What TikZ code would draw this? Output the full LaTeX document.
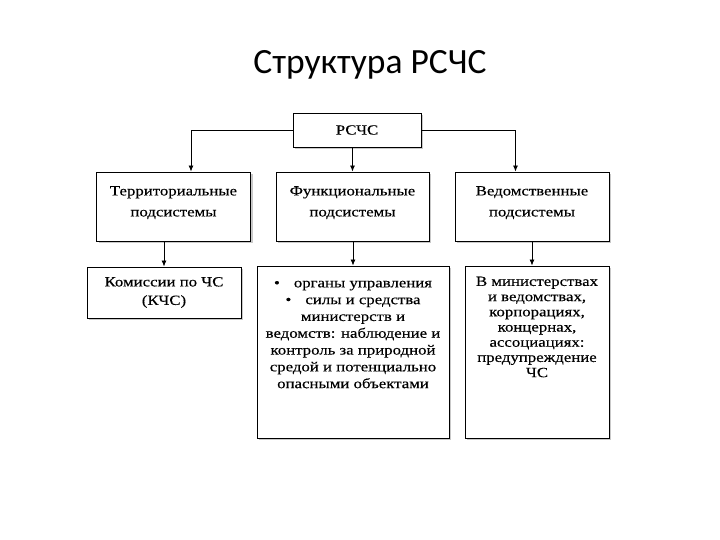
\documentclass[tikz,border=0pt]{standalone}
\usepackage{fontspec}
\setmainfont{Liberation Serif}[FakeStretch=1.2,FakeBold=0.3]
\newfontfamily\titlefont{Carlito}
\usetikzlibrary{shadows,arrows.meta}
\tikzset{
  box/.style={draw=black, line width=0.9pt, fill=white, inner sep=0pt,
    drop shadow={shadow xshift=2pt, shadow yshift=-2pt, fill=gray!60, opacity=0.7}},
  txt/.style={align=center, inner sep=0pt},
  arr/.style={line width=0.8pt, -{Latex[length=6pt,width=5pt]}},
}
\begin{document}
\begin{tikzpicture}[x=1pt,y=-1pt]
\useasboundingbox (0,0) rectangle (720,540);
\node[txt, font={\titlefont\fontsize{35.5}{38}\selectfont}] (title) at (370,65) {Структура РСЧС};

\node[box, minimum width=128pt, minimum height=34pt, font={\fontsize{14}{16}\selectfont}] (r) at (357,130) {РСЧС};

\node[box, minimum width=154pt, minimum height=69pt] (t1) at (173.5,206.5) {};
\node[box, minimum width=153pt, minimum height=69pt] (t2) at (352.5,206.5) {};
\node[box, minimum width=154pt, minimum height=69pt] (t3) at (532,206.5) {};
\node[txt, anchor=north, font={\fontsize{14}{21}\selectfont\lineskiplimit=-20pt}] (l1) at ([yshift=-14.5pt]t1.north) {Территориальные\\подсистемы};
\node[txt, anchor=north, font={\fontsize{14}{21}\selectfont\lineskiplimit=-20pt}] (l2) at ([yshift=-14.5pt]t2.north) {Функциональные\\подсистемы};
\node[txt, anchor=north, font={\fontsize{14}{21}\selectfont\lineskiplimit=-20pt}] (l3) at ([yshift=-14.5pt]t3.north) {Ведомственные\\подсистемы};

\node[box, minimum width=154pt, minimum height=51pt, align=center, font={\fontsize{14}{18.5}\selectfont\lineskiplimit=-20pt}] (t4) at (164,292.5) {Комиссии по ЧС\\(КЧС)};
\node[box, minimum width=192pt, minimum height=172pt] (t5) at (353,352) {};
\node[box, minimum width=144pt, minimum height=172pt] (t6) at (537,352) {};
\node[txt, anchor=north, font={\fontsize{14}{16.8}\selectfont\lineskiplimit=-20pt}] (l5) at ([yshift=-15pt]t5.north)
  {\textbullet\hspace{14pt}органы управления\\\textbullet\hspace{14pt}силы и средства\\министерств и\\ведомств: наблюдение и\\контроль за природной\\средой и потенциально\\опасными объектами};
\node[txt, anchor=north, font={\fontsize{14}{15.2}\selectfont\lineskiplimit=-20pt}] (l6) at ([yshift=-11pt]t6.north)
  {В министерствах\\и ведомствах,\\корпорациях,\\концернах,\\ассоциациях:\\предупреждение\\ЧС};

\draw[arr] (r.west) -| ([xshift=17.5pt]t1.north);
\draw[arr] (r.east) -| ([xshift=-16.5pt]t3.north);
\draw[arr] (t2.north |- r.south) -- (t2.north);
\draw[arr] (t4.north |- t1.south) -- (t4.north);
\draw[arr] (t5.north |- t2.south) -- (t5.north);
\draw[arr] (t3.south) -- (t3.south |- t6.north);
\end{tikzpicture}
\end{document}
